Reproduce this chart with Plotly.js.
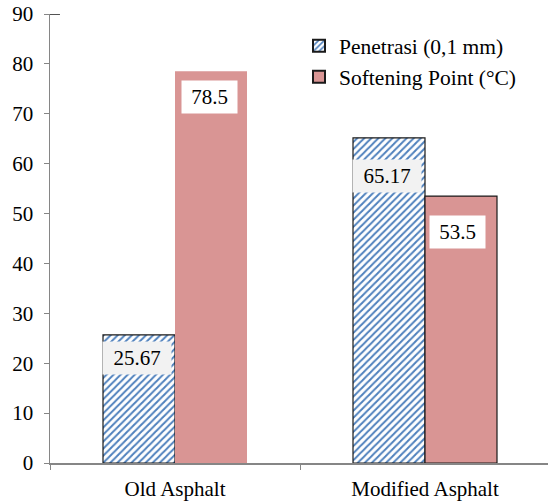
<!DOCTYPE html>
<html>
<head>
<meta charset="utf-8">
<script src="https://cdn.plot.ly/plotly-3.0.1.min.js"></script>
<style>html,body{margin:0;padding:0;background:#fff;}</style>
</head>
<body>
<div id="chart" style="width:548px;height:501px;"></div>
<script>
const categories = ["Old Asphalt", "Modified Asphalt"];
const penetrasi = [25.67, 65.17];
const softening = [78.5, 53.5];
const seriesNames = ["Penetrasi (0,1 mm)", "Softening Point (°C)"];
const penLabels = ["25.67", "65.17"];
const softLabels = ["78.5", "53.5"];

const font = "Times New Roman, Liberation Serif, serif";

const traces = [
  {
    type: "bar", name: seriesNames[0], x: categories, y: penetrasi,
    marker: {
      color: "#ffffff",
      pattern: {shape: "/", fgcolor: "#4f81bd", bgcolor: "#ffffff", size: 5, solidity: 0.4},
      line: {color: "#1a1a1a", width: 1.2}
    },
    hoverinfo: "none"
  },
  {
    type: "bar", name: seriesNames[1], x: categories, y: softening,
    marker: {
      color: "#d99594",
      line: {color: "#1a1a1a", width: [0, 1.2]}
    },
    hoverinfo: "none"
  }
];

const annotations = [];
const penShift = [-23, -38];
const softShift = [-26, -36];
const softDx = [-0.006, -0.016];
penetrasi.forEach((v, i) => annotations.push({
  x: i - 0.152, y: v, xref: "x", yref: "y", text: penLabels[i], showarrow: false,
  yshift: penShift[i], bgcolor: "#f2f2f2", borderpad: 3, width: 62, height: 26,
  font: {family: font, size: 21, color: "#000"}
}));
softening.forEach((v, i) => annotations.push({
  x: i + 0.144 + softDx[i], y: v, xref: "x", yref: "y", text: softLabels[i], showarrow: false,
  yshift: softShift[i], bgcolor: "#ffffff", borderpad: 3, width: 49, height: 26,
  font: {family: font, size: 21, color: "#000"}
}));

const layout = {
  width: 548, height: 501,
  margin: {l: 50, r: 0, t: 14, b: 38},
  paper_bgcolor: "#fff", plot_bgcolor: "#fff",
  barmode: "group", bargap: 0.424, bargroupgap: 0,
  font: {family: font, size: 20, color: "#000"},
  showlegend: true,
  legend: {x: 0.50, y: 0.975, xanchor: "left", yanchor: "top",
    font: {family: font, size: 21.5, color: "#000"}, bgcolor: "rgba(0,0,0,0)",
    tracegroupgap: 0, itemwidth: 30, itemsizing: "constant"},
  xaxis: {
    type: "category", range: [-0.5, 1.492], showline: true, linecolor: "#868686", linewidth: 1.5,
    ticks: "outside", tickson: "boundaries", ticklen: 5, tickcolor: "#868686",
    ticklabelstandoff: 6,
    showgrid: false, zeroline: false, tickfont: {family: font, size: 21, color: "#000"}
  },
  yaxis: {
    range: [0, 90], dtick: 10, showline: true, linecolor: "#868686", linewidth: 1.5,
    ticks: "outside", ticklen: 5, tickcolor: "#868686", showgrid: false, zeroline: false,
    ticklabelstandoff: 6,
    tickfont: {family: font, size: 21, color: "#000"}
  },
  annotations: annotations,
  shapes: [{type: "line", xref: "paper", yref: "y", x0: 0, x1: 0.02, y0: 90, y1: 90,
    line: {color: "#1a1a1a", width: 1.5}}]
};

Plotly.newPlot("chart", traces, layout, {staticPlot: true, displayModeBar: false});
</script>
</body>
</html>
